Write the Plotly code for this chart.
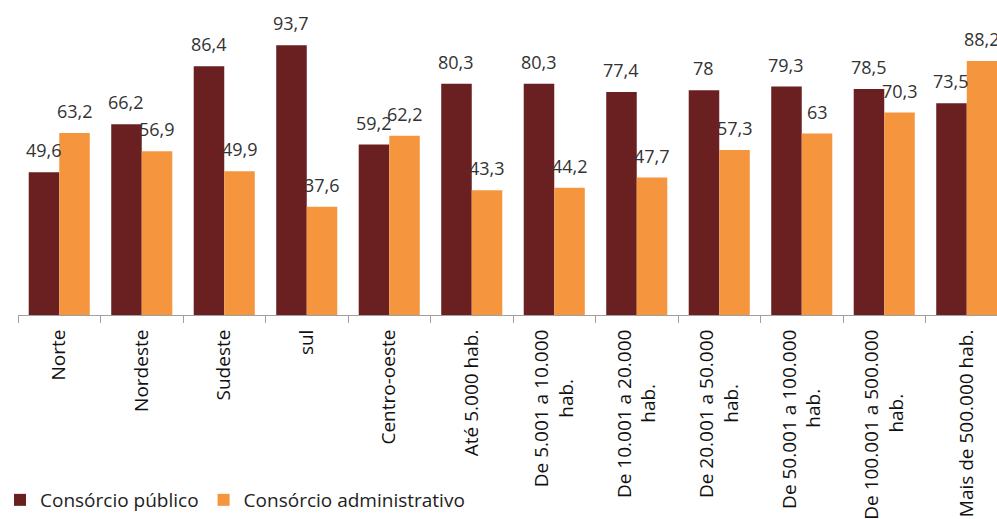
import plotly.graph_objects as go

NB = "\u00a0"
categories = ["Norte", "Nordeste", "Sudeste", "sul", "Centro-oeste", "Até 5.000 hab.",
              "De 5.001 a 10.000<br>hab." + NB * 10,
              "De 10.001 a 20.000<br>hab." + NB * 11,
              "De 20.001 a 50.000<br>hab." + NB * 11,
              "De 50.001 a 100.000<br>hab." + NB * 12,
              "De 100.001 a 500.000<br>hab." + NB * 13,
              "Mais de 500.000 hab."]
publico = [49.6, 66.2, 86.4, 93.7, 59.2, 80.3, 80.3, 77.4, 78, 79.3, 78.5, 73.5]
administrativo = [63.2, 56.9, 49.9, 37.6, 62.2, 43.3, 44.2, 47.7, 57.3, 63, 70.3, 88.2]

labels_pub = [str(v).replace(".", ",") for v in publico]
labels_adm = [str(v).replace(".", ",") for v in administrativo]

DARK = "#6A2020"
ORANGE = "#F5963F"
FONT = "Open Sans"

fig = go.Figure()
fig.add_trace(go.Bar(x=categories, y=publico, name="Consórcio público", marker_color=DARK,
                     marker_line_width=0))
fig.add_trace(go.Bar(x=categories, y=administrativo, name="Consórcio administrativo",
                     marker_color=ORANGE, marker_line_width=0))

W, H = 997, 519
ml, mt, mb = 18, 27, 204
plot_w = W - ml
cat_w = 82.5
half = cat_w * 0.74 / 4

ann = []
for i, c in enumerate(categories):
    ann.append(dict(x=c, y=publico[i], text=labels_pub[i], xshift=-half, yshift=8,
                    yanchor="bottom", showarrow=False, font=dict(size=18, color="#333333", family=FONT)))
    ann.append(dict(x=c, y=administrativo[i], text=labels_adm[i], xshift=half, yshift=8,
                    yanchor="bottom", showarrow=False, font=dict(size=18, color="#333333", family=FONT)))

fig.update_layout(
    width=W, height=H,
    margin=dict(l=ml, r=0, t=mt, b=mb, pad=0, autoexpand=False),
    barmode="group", bargap=0.26, bargroupgap=0,
    plot_bgcolor="white", paper_bgcolor="white",
    font=dict(family=FONT, color="#222222"),
    annotations=ann,
    showlegend=True,
    legend=dict(orientation="h", xref="container", yref="container", x=0, y=0,
                xanchor="left", yanchor="bottom", font=dict(size=19, color="#222222"),
                itemwidth=30, tracegroupgap=0, bgcolor="rgba(0,0,0,0)"),
    xaxis=dict(range=[-0.5, -0.5 + plot_w / cat_w], tickangle=-90, showline=True,
               linecolor="#A0A0A0", linewidth=1, ticks="outside", ticklen=7, tickcolor="#A0A0A0",
               tickson="boundaries", tickfont=dict(size=19, color="#111111", family=FONT),
               ticklabelstandoff=6,
               showgrid=False, automargin=False),
    yaxis=dict(range=[0, 100], visible=False, showgrid=False, zeroline=False),
)

fig.write_html("out.html")
